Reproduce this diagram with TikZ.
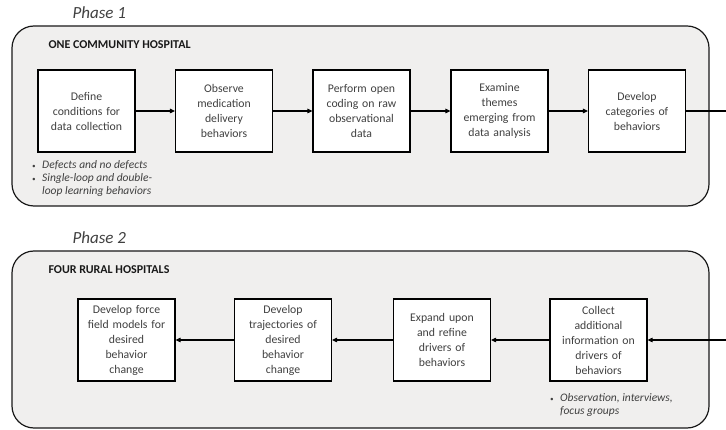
\documentclass[tikz,border=0pt]{standalone}
\usepackage{fontspec}
\setmainfont{Carlito}
\usetikzlibrary{arrows.meta}
\definecolor{panelgray}{HTML}{F0EFEE}
\definecolor{textgray}{HTML}{404040}
\newcommand{\bul}{\makebox[10pt][l]{\scriptsize\textbullet}}
\tikzset{
  panel/.style={draw=black!90, line width=1.2pt, fill=panelgray, rounded corners=22pt},
  stepbox/.style={draw, line width=1.2pt, fill=white, minimum width=97pt,
    minimum height=82pt, text width=95pt, align=center, inner sep=0pt,
    text=textgray, font=\fontsize{11.75}{15}\selectfont},
  phaselabel/.style={anchor=west, text=textgray, font=\fontsize{17}{19}\selectfont\itshape},
  sitelabel/.style={anchor=west, text=black!90, font=\fontsize{12}{14}\selectfont\bfseries},
  note/.style={anchor=north west, align=left, text=textgray, inner sep=0pt,
    font=\fontsize{11.5}{13}\selectfont\itshape},
  flow/.style={-{Triangle[length=5pt,width=4.5pt]}, line width=1.1pt}
}
\begin{document}
\begin{tikzpicture}[x=1pt, y=-1pt]
      \useasboundingbox (0,0) rectangle (726,430);
      % phase panels
      \draw[panel] (12,26) rectangle (709,206);
      \draw[panel] (12,251) rectangle (709,428);
      \draw
        (69,13) node[phaselabel] (phase1){Phase 1}
        (69,238) node[phaselabel] (phase2){Phase 2}
        (45,45) node[sitelabel] (site1){ONE COMMUNITY HOSPITAL}
        (45,270) node[sitelabel] (site2){FOUR RURAL HOSPITALS};
      % phase 1 steps
      \draw
        (86.5,111) node[stepbox] (define){Define\\conditions for\\data collection}
        (224,111) node[stepbox] (observe){Observe\\medication\\delivery\\behaviors}
        (361.5,111) node[stepbox] (coding){Perform open\\coding on raw\\observational\\data}
        (499.5,111) node[stepbox] (themes){Examine\\themes\\emerging from\\data analysis}
        (637,111) node[stepbox] (categories){Develop\\categories of\\behaviors};
      % phase 2 steps
      \draw
        (598.5,340) node[stepbox] (collect){Collect\\additional\\information on\\drivers of\\behaviors}
        (442,340) node[stepbox] (expand){Expand upon\\and refine\\drivers of\\behaviors}
        (283,340) node[stepbox] (trajectories){Develop\\trajectories of\\desired\\behavior\\change}
        (126.5,340) node[stepbox] (forcefield){Develop force\\field models for\\desired\\behavior\\change};
      % notes
      \draw
        (32,160) node[note] (note1){\bul Defects and no defects\\\bul Single-loop and double-\\\hspace*{10pt}loop learning behaviors}
        (550,393) node[note] (note2){\bul Observation, interviews,\\\hspace*{10pt}focus groups};
      \coordinate (out1) at (726,111);
      \coordinate (in2) at (726,340);
      \begin{scope}[flow]
        \draw (define) to (observe);
        \draw (observe) to (coding);
        \draw (coding) to (themes);
        \draw (themes) to (categories);
        \draw[-] (categories) to (out1);
        \draw (in2) to (collect);
        \draw (collect) to (expand);
        \draw (expand) to (trajectories);
        \draw (trajectories) to (forcefield);
      \end{scope}
    \end{tikzpicture}
\end{document}
